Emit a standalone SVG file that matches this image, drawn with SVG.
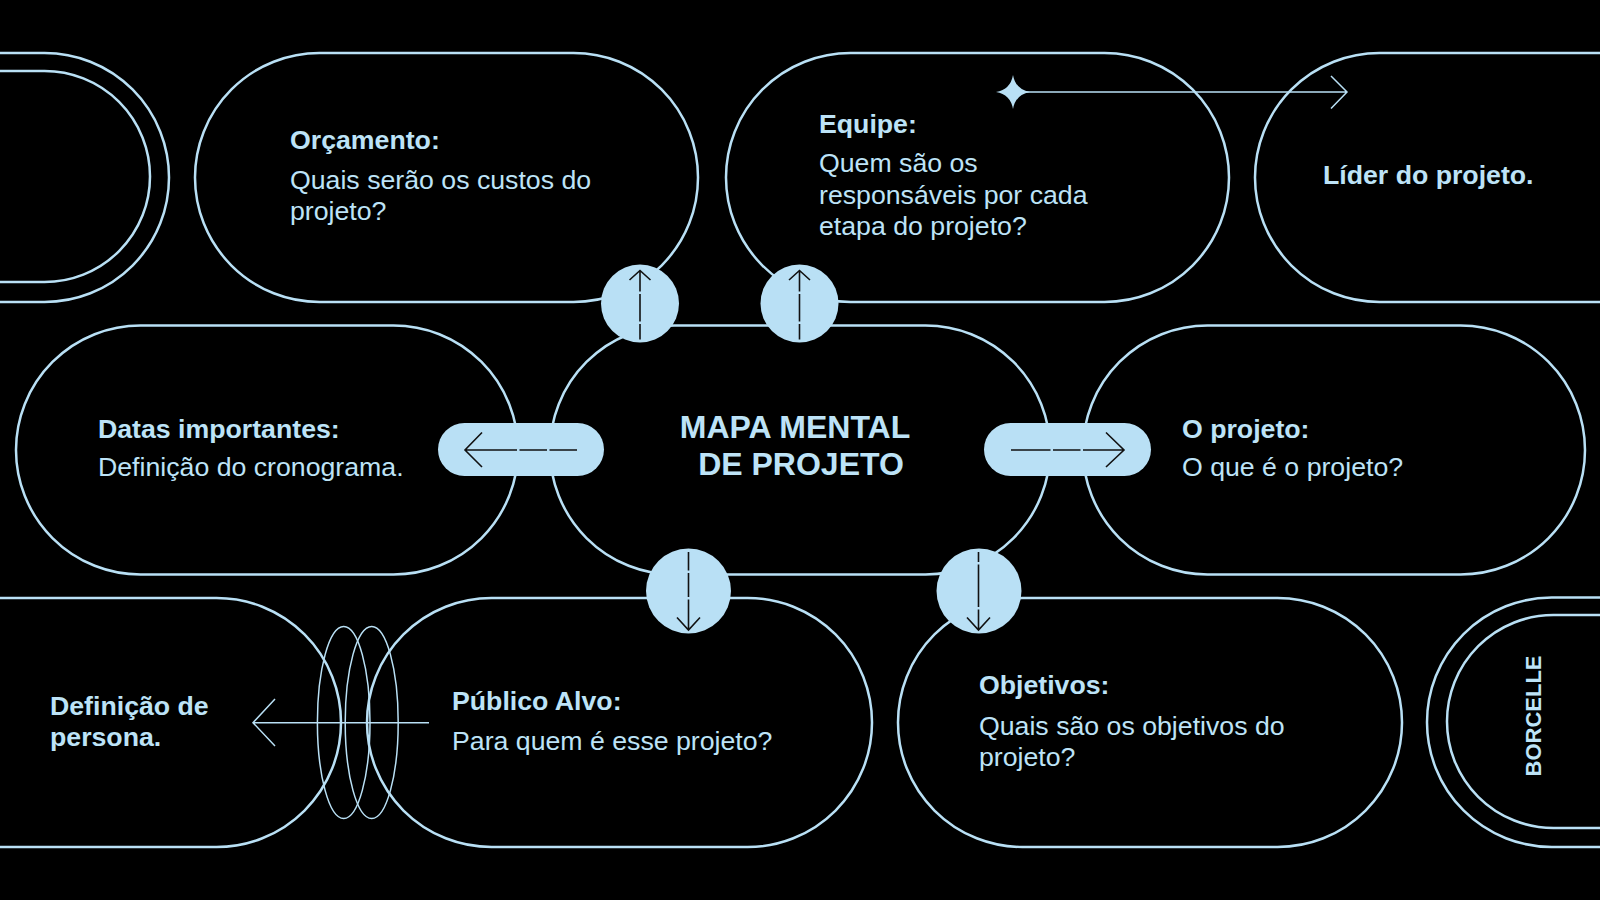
<svg xmlns="http://www.w3.org/2000/svg" width="1600" height="900" viewBox="0 0 1600 900">
  <style>
    .pill { fill: none; stroke: #B9E0F5; stroke-width: 2.5; }
    .t { font-family: "Liberation Sans", Arial, sans-serif; font-size: 26.7px; fill: #BDE3F7; }
    .b { font-weight: bold; }
    .knob { fill: #B9E0F5; }
    .dark { fill: none; stroke: #111111; stroke-width: 1.6; stroke-linecap: butt; }
    .thin { fill: none; stroke: #B9E0F5; stroke-width: 1.5; }
  </style>
  <rect x="0" y="0" width="1600" height="900" fill="#000000"/>

  <g id="node-deco-left">
    <rect class="pill" x="-400" y="53" width="569" height="249" rx="124.5"/>
    <rect class="pill" x="-400" y="71" width="550" height="211" rx="105.5"/>
  </g>
  <g id="node-orcamento">
    <rect class="pill" x="195" y="53" width="503" height="249" rx="124.5"/>
    <text class="t b" x="290" y="148.5">Orçamento:</text>
    <text class="t" x="290" y="189">Quais serão os custos do</text>
    <text class="t" x="290" y="220">projeto?</text>
  </g>
  <g id="node-equipe">
    <rect class="pill" x="726" y="53" width="503" height="249" rx="124.5"/>
    <text class="t b" x="819" y="132.5">Equipe:</text>
    <text class="t" x="819" y="172">Quem são os</text>
    <text class="t" x="819" y="204">responsáveis por cada</text>
    <text class="t" x="819" y="235">etapa do projeto?</text>
  </g>
  <g id="node-lider">
    <rect class="pill" x="1255" y="53" width="600" height="249" rx="124.5"/>
    <text class="t b" x="1323" y="184">Líder do projeto.</text>
  </g>

  <g id="node-datas">
    <rect class="pill" x="16" y="325.5" width="502" height="249" rx="124.5"/>
    <text class="t b" x="98" y="437.5">Datas importantes:</text>
    <text class="t" x="98" y="476">Definição do cronograma.</text>
  </g>
  <g id="node-center">
    <rect class="pill" x="550" y="325.5" width="500" height="249" rx="124.5"/>
    <text class="t b" x="795" y="437.5" text-anchor="middle" style="font-size:32px">MAPA MENTAL</text>
    <text class="t b" x="801" y="474.5" text-anchor="middle" style="font-size:32px">DE PROJETO</text>
  </g>
  <g id="node-oprojeto">
    <rect class="pill" x="1083" y="325.5" width="502" height="249" rx="124.5"/>
    <text class="t b" x="1182" y="437.5">O projeto:</text>
    <text class="t" x="1182" y="476">O que é o projeto?</text>
  </g>

  <g id="node-persona">
    <rect class="pill" x="-400" y="598" width="741" height="249" rx="124.5"/>
    <text class="t b" x="50" y="714.5">Definição de</text>
    <text class="t b" x="50" y="745.5">persona.</text>
  </g>
  <g id="node-publico">
    <rect class="pill" x="367" y="598" width="505" height="249" rx="124.5"/>
    <text class="t b" x="452" y="710">Público Alvo:</text>
    <text class="t" x="452" y="750">Para quem é esse projeto?</text>
  </g>
  <g id="node-objetivos">
    <rect class="pill" x="898" y="598" width="504" height="249" rx="124.5"/>
    <text class="t b" x="979" y="694">Objetivos:</text>
    <text class="t" x="979" y="735">Quais são os objetivos do</text>
    <text class="t" x="979" y="766">projeto?</text>
  </g>
  <g id="node-borcelle">
    <rect class="pill" x="1427" y="597.5" width="500" height="249.5" rx="124.75"/>
    <rect class="pill" x="1447" y="615" width="480" height="213" rx="106.5"/>
    <text class="t b" transform="translate(1540.5,716) rotate(-90)" text-anchor="middle" style="font-size:22px">BORCELLE</text>
  </g>

  <g id="connectors">
    <ellipse class="thin" cx="343.7" cy="722.5" rx="26.3" ry="96"/>
    <ellipse class="thin" cx="371.7" cy="722.5" rx="26.5" ry="96"/>
    <path class="thin" d="M429 722.7 H253 M275 699 L253 722.7 L275 746"/>

    <path class="knob" d="M1013 75 Q1015.5 89.5 1030 92 Q1015.5 94.5 1013 109 Q1010.5 94.5 996 92 Q1010.5 89.5 1013 75 Z"/>
    <path class="thin" d="M1013 92 H1347 M1331 76 L1347 92 L1331 108.5"/>

    <circle class="knob" cx="640" cy="303.5" r="39"/>
    <path class="dark" d="M640 271 V291.5 M640 294 V321.5 M640 324 V339.5 M629.5 280 L640 270.5 L650.5 280"/>
    <circle class="knob" cx="799.5" cy="303.5" r="39"/>
    <path class="dark" d="M799.5 271 V291.5 M799.5 294 V321.5 M799.5 324 V339.5 M789 280 L799.5 270.5 L810 280"/>

    <circle class="knob" cx="688.5" cy="591" r="42.5"/>
    <path class="dark" d="M688.5 552 V570.5 M688.5 573 V597 M688.5 599.5 V630 M677 617.5 L688.5 630 L700 617.5"/>
    <circle class="knob" cx="979" cy="591" r="42.5"/>
    <path class="dark" d="M978.5 552 V562 M978.5 564.5 V607 M978.5 609.5 V630 M967 617.5 L978.5 630 L990 617.5"/>

    <rect class="knob" x="438" y="423" width="166" height="53" rx="26.5"/>
    <path class="dark" d="M577 450 H549.5 M547 450 H519.5 M517 450 H465 M482 432.5 L465 450 L482 467"/>
    <rect class="knob" x="984" y="423" width="167" height="53" rx="26.5"/>
    <path class="dark" d="M1011 450 H1050.5 M1053 450 H1080.5 M1083 450 H1124 M1106 432.5 L1124 450 L1106 467"/>
  </g>
</svg>
